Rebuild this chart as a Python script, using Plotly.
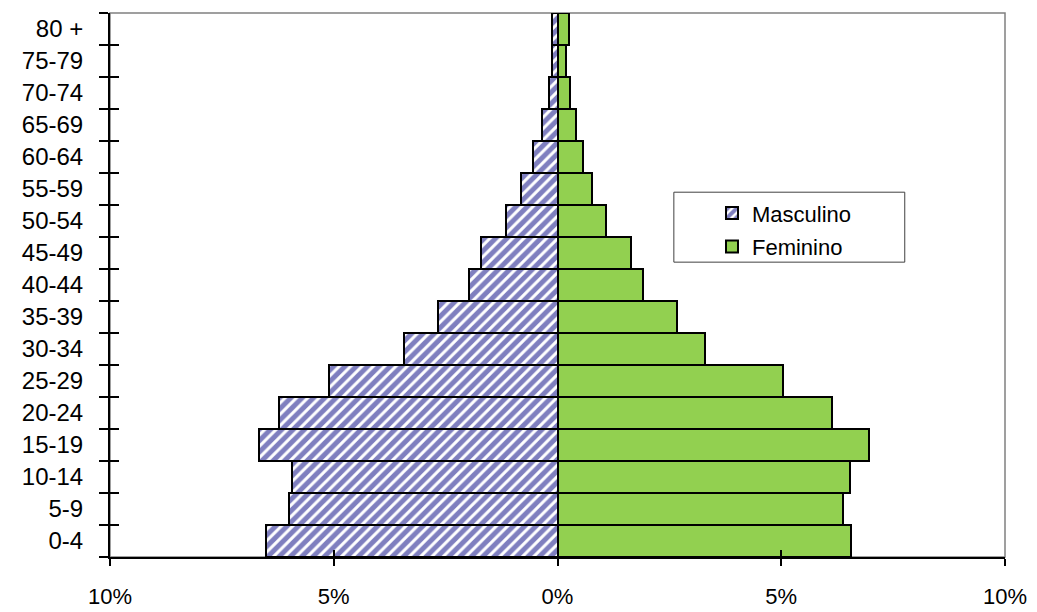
import plotly.graph_objects as go

age_groups = ["0-4", "5-9", "10-14", "15-19", "20-24", "25-29", "30-34", "35-39",
              "40-44", "45-49", "50-54", "55-59", "60-64", "65-69", "70-74", "75-79", "80 +"]
masculino = [6.51, 5.99, 5.93, 6.68, 6.22, 5.10, 3.43, 2.66, 1.97, 1.72, 1.14, 0.82,
             0.54, 0.35, 0.20, 0.12, 0.12]
feminino = [6.55, 6.39, 6.54, 6.97, 6.13, 5.05, 3.30, 2.68, 1.90, 1.64, 1.08, 0.78,
            0.58, 0.42, 0.27, 0.20, 0.25]
x_tickvals = [-10, -5, 0, 5, 10]
x_ticktext = ["10%", "5%", "0%", "5%", "10%"]

FONT = "Liberation Sans"

fig = go.Figure()
fig.add_trace(go.Bar(
    y=age_groups, x=[-v for v in masculino], orientation="h", name="Masculino",
    legendgroup="m",
    marker=dict(color="white", line=dict(color="black", width=2),
                pattern=dict(shape="/", fgcolor="#000080", bgcolor="white",
                             size=8, solidity=0.62)),
))
fig.add_trace(go.Bar(
    y=age_groups, x=feminino, orientation="h", name="Feminino",
    legendgroup="f",
    marker=dict(color="#92D050", line=dict(color="black", width=2)),
))
# helper trace so that the overlay axes (inner halves of tick marks) are drawn
fig.add_trace(go.Scatter(x=[None], y=[None], xaxis="x2", yaxis="y2",
                         showlegend=False, hoverinfo="skip"))

fig.update_layout(
    width=1029, height=604,
    margin=dict(l=102, r=32, t=5, b=55),
    paper_bgcolor="white", plot_bgcolor="white",
    barmode="relative", bargap=0,
    showlegend=True,
    legend=dict(x=0.6726, y=0.6706, xanchor="left", yanchor="top",
                bgcolor="rgba(0,0,0,0)", borderwidth=0,
                font=dict(family=FONT, size=22, color="black"),
                itemwidth=30, tracegroupgap=2, traceorder="grouped"),
    font=dict(family=FONT, color="black"),
    shapes=[
        dict(type="rect", xref="paper", yref="paper", x0=0, y0=0, x1=1, y1=1,
             line=dict(color="#808080", width=1.5), layer="below"),
        # legend frame
        dict(type="rect", xref="paper", yref="paper", x0=0.630, x1=0.888,
             y0=0.542, y1=0.6706, line=dict(color="#404040", width=1),
             fillcolor="white", layer="below"),
    ],
)
fig.update_xaxes(
    range=[-10, 10], tickvals=x_tickvals, ticktext=x_ticktext, automargin=False,
    showgrid=False, zeroline=False, showline=True, linecolor="black", linewidth=2,
    ticks="outside", ticklen=7, tickcolor="black", tickwidth=1.5,
    tickfont=dict(family=FONT, size=22, color="black"), ticklabelstandoff=12,
)
fig.update_yaxes(
    categoryorder="array", categoryarray=age_groups, automargin=False,
    showgrid=False, zeroline=False, showline=True, linecolor="black", linewidth=2,
    ticks="outside", ticklen=9, tickcolor="black", tickwidth=1.5, tickson="boundaries",
    tickfont=dict(family=FONT, size=24, color="black"), ticklabelstandoff=20,
)
fig.update_layout(
    xaxis2=dict(overlaying="x", anchor="y", side="bottom", range=[-10, 10],
                tickvals=x_tickvals, showticklabels=False, ticks="inside", ticklen=7,
                tickcolor="black", tickwidth=1.5, showgrid=False, zeroline=False,
                showline=False, automargin=False),
    yaxis2=dict(overlaying="y", anchor="x", side="left", range=[-0.5, len(age_groups) - 0.5],
                tickvals=[i - 0.5 for i in range(len(age_groups) + 1)],
                showticklabels=False, ticks="inside", ticklen=9, tickcolor="black",
                tickwidth=1.5, showgrid=False, zeroline=False, showline=False,
                automargin=False),
)

fig.write_html("out.html")
